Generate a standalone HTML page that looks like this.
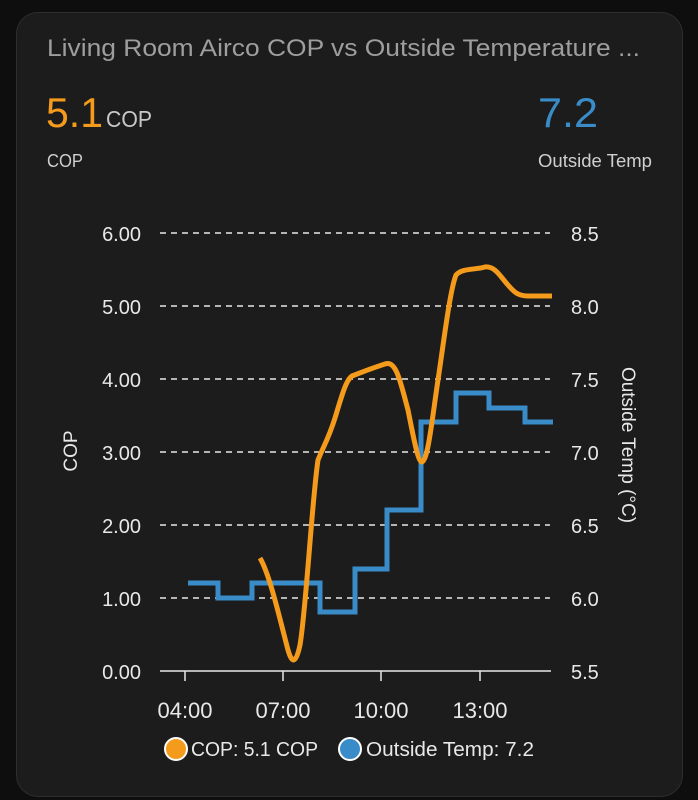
<!DOCTYPE html>
<html><head><style>
body{margin:0;background:#0e0e0e;width:698px;height:800px;overflow:hidden;font-family:"Liberation Sans",sans-serif}
.card{position:absolute;left:16px;top:12px;width:665px;height:783px;background:#1c1c1c;border-radius:22px;border:1px solid #2e2e2e}
</style></head><body>
<div class="card"></div>
<svg width="698" height="800" style="position:absolute;left:0;top:0" font-family="Liberation Sans, sans-serif">
<text x="47" y="56" font-size="24" fill="#9e9e9e" textLength="593" lengthAdjust="spacingAndGlyphs">Living Room Airco COP vs Outside Temperature ...</text>
<text x="46" y="127" font-size="42" fill="#f59b1c" textLength="57" lengthAdjust="spacingAndGlyphs">5.1</text>
<text x="106" y="127" font-size="23" fill="#c8c8c8" textLength="46" lengthAdjust="spacingAndGlyphs">COP</text>
<text x="47" y="167" font-size="18" fill="#cfcfcf" textLength="36" lengthAdjust="spacingAndGlyphs">COP</text>
<text x="538" y="127" font-size="42" fill="#3a8cc8" textLength="60" lengthAdjust="spacingAndGlyphs">7.2</text>
<text x="538" y="167" font-size="18" fill="#cfcfcf" textLength="114" lengthAdjust="spacingAndGlyphs">Outside Temp</text>
<g stroke="#e8e8e8" stroke-width="1.5" stroke-dasharray="6,5">
<line x1="160" x2="550" y1="233" y2="233"/><line x1="160" x2="550" y1="306" y2="306"/>
<line x1="160" x2="550" y1="379" y2="379"/><line x1="160" x2="550" y1="452" y2="452"/>
<line x1="160" x2="550" y1="525" y2="525"/><line x1="160" x2="550" y1="598" y2="598"/>
</g>
<line x1="160" x2="551" y1="671" y2="671" stroke="#e8e8e8" stroke-width="1.5"/>
<g stroke="#e8e8e8" stroke-width="1.5"><line x1="185" x2="185" y1="671" y2="681"/><line x1="283" x2="283" y1="671" y2="681"/><line x1="381" x2="381" y1="671" y2="681"/><line x1="480" x2="480" y1="671" y2="681"/></g>
<g font-size="20" fill="#e8e8e8" text-anchor="end">
<text x="141" y="241">6.00</text><text x="141" y="314">5.00</text><text x="141" y="387">4.00</text><text x="141" y="460">3.00</text><text x="141" y="533">2.00</text><text x="141" y="606">1.00</text><text x="141" y="679">0.00</text></g>
<g font-size="20" fill="#e8e8e8">
<text x="571" y="241">8.5</text><text x="571" y="314">8.0</text><text x="571" y="387">7.5</text><text x="571" y="460">7.0</text><text x="571" y="533">6.5</text><text x="571" y="606">6.0</text><text x="571" y="679">5.5</text></g>
<g font-size="22" fill="#e8e8e8" text-anchor="middle">
<text x="185" y="718">04:00</text><text x="283" y="718">07:00</text><text x="381" y="718">10:00</text><text x="480" y="718">13:00</text></g>
<text transform="translate(77,451) rotate(-90)" font-size="19" fill="#e8e8e8" text-anchor="middle">COP</text>
<text transform="translate(622,445) rotate(90)" font-size="19" fill="#e8e8e8" text-anchor="middle">Outside Temp (°C)</text>
<path d="M188,583 H218 V598 H252 V583 H320 V612 H355 V569 H387 V510 H421 V422 H456 V393 H489 V408 H525 V422 H553" fill="none" stroke="#3a8cc8" stroke-width="5"/>
<path d="M260,558 C270,575 280,620 288,650 C292,664 296,664 300,645 C306,610 312,500 318,460 C324,445 328,440 335,418 C342,395 346,380 352,376 C362,372 372,368 385,364 C396,360 400,380 408,410 C414,440 418,462 422,462 C428,460 432,420 438,380 C444,340 450,290 456,275 C462,268 475,270 485,267 C495,266 500,276 508,285 C514,292 518,296 528,296 L552,296" fill="none" stroke="#f59b1c" stroke-width="5"/>
<circle cx="176" cy="749" r="11" fill="#f59b1c" stroke="#fff" stroke-width="2"/>
<text x="191" y="756" font-size="20" fill="#e8e8e8" textLength="127" lengthAdjust="spacingAndGlyphs">COP: 5.1 COP</text>
<circle cx="350" cy="749" r="11" fill="#3a8cc8" stroke="#fff" stroke-width="2"/>
<text x="366" y="756" font-size="20" fill="#e8e8e8" textLength="168" lengthAdjust="spacingAndGlyphs">Outside Temp: 7.2</text>
</svg>
</body></html>
